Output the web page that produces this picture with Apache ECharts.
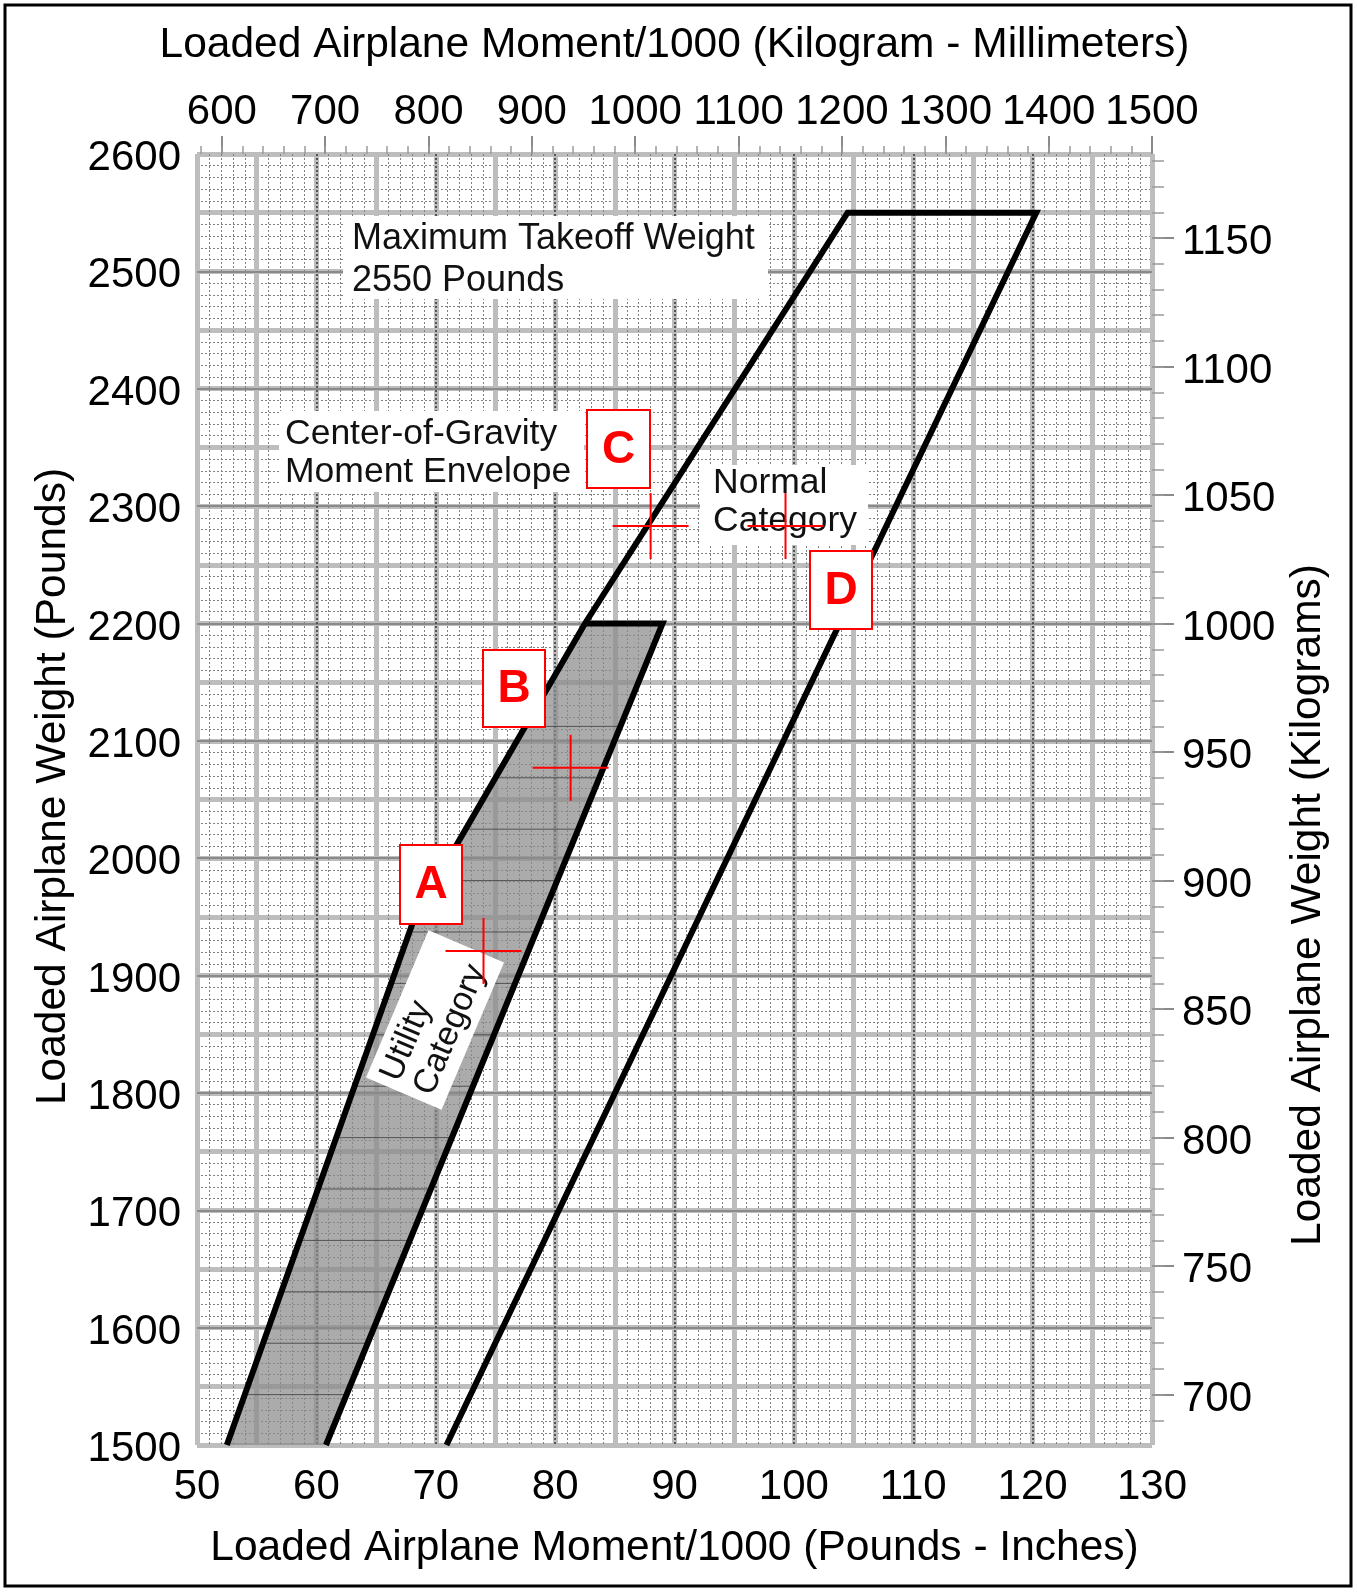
<!DOCTYPE html>
<html>
<head>
<meta charset="utf-8">
<title>Center-of-Gravity Moment Envelope</title>
<script src="https://cdn.jsdelivr.net/npm/echarts@6/dist/echarts.min.js"></script>
<style>
  html, body { margin: 0; padding: 0; background: #fff; }
  #chart { width: 1357px; height: 1592px; }
</style>
</head>
<body>
<div id="chart"></div>
<script>
// ---- Scales ---------------------------------------------------------------
const momentRange = [50, 130];          // loaded moment / 1000, lb-in
const weightRange = [1500, 2600];       // loaded weight, lb
const momentTicks = [50, 60, 70, 80, 90, 100, 110, 120, 130];
const weightTicks = [1500, 1600, 1700, 1800, 1900, 2000, 2100, 2200, 2300, 2400, 2500, 2600];
const metricMomentTicks = [600, 700, 800, 900, 1000, 1100, 1200, 1300, 1400, 1500]; // kg-mm / 1000
const metricWeightTicks = [700, 750, 800, 850, 900, 950, 1000, 1050, 1100, 1150];   // kg
const metricMomentRange = [576, 1500];  // kg-mm scale printed along the top
const kgRange = [680.4, 1182.7];        // kilogram scale printed along the right edge

// ---- Envelopes (moment/1000 lb-in, weight lb) ------------------------------
const normalEnvelope = [[52.5, 1500], [68.25, 1950], [82.5, 2200], [104.5, 2550], [120.3, 2550], [70.9, 1500]];
const utilityEdges   = [[82.5, 2200], [89.0, 2200], [60.8, 1500]];
const utilityArea    = [[52.5, 1500], [68.25, 1950], [82.5, 2200], [89.0, 2200], [60.8, 1500]];

// ---- Loading points marked with crosshairs --------------------------------
const checkPoints = [[74.0, 1921], [81.3, 2077], [88.0, 2283], [99.3, 2283]];

// ---- helpers --------------------------------------------------------------
const FONT = '"Liberation Sans", Arial, Helvetica, sans-serif';
function steps(from, to, step) { const out = []; for (let v = from; v <= to + 1e-9; v += step) out.push(v); return out; }
const metricMomentMinor = steps(580, 1480, 20);
const metricWeightMinor = steps(690, 1180, 10);
const kgPaperLines = steps(700, 960, 20);

const plain = v => String(v);
const labelStyle = { color: '#000', fontSize: 42, fontFamily: FONT, formatter: plain };
// side labels sit a few pixels below their rule
const sideLabelStyle = Object.assign({ verticalAlign: 'top', lineHeight: 9 }, labelStyle);
const nameStyle = { color: '#000', fontSize: 42.5, fontFamily: FONT };
const noLine = { show: false, onZero: false };
const heavyRule = { color: '#bdbdbd', width: 5 };
const fineRule = { color: '#808080', width: 1, type: [2, 2] };

const chart = echarts.init(document.getElementById('chart'), null, { renderer: 'canvas' });

function note(lines, x, y, lineGap, size) {
  return lines.map((t, i) => ({
    type: 'text', x: x, y: y + i * lineGap, z: 51,
    style: { text: t, font: size + 'px ' + FONT, fill: '#111', align: 'left', verticalAlign: 'middle' }
  }));
}
function whiteBox(x, y, w, h) {
  return { type: 'rect', z: 50, shape: { x: x, y: y, width: w, height: h }, style: { fill: '#fff' } };
}
function tag(letter, x, y, w, h) {
  return [
    { type: 'rect', z: 60, shape: { x: x, y: y, width: w, height: h }, style: { fill: '#fff', stroke: '#ff0000', lineWidth: 2 } },
    { type: 'text', z: 61, x: x + w / 2, y: y + h / 2 + 1,
      style: { text: letter, font: 'bold 46px ' + FONT, fill: '#ff0000', align: 'center', verticalAlign: 'middle' } }
  ];
}

const graphics = [].concat(
  [{ type: 'rect', z: 40, shape: { x: 5, y: 5, width: 1346, height: 1581 }, style: { fill: 'none', stroke: '#000', lineWidth: 3 } }],
  [whiteBox(343, 216, 425, 83)], note(['Maximum Takeoff Weight', '2550 Pounds'], 352, 239, 42, 36),
  [whiteBox(279, 411, 305, 81)], note(['Center-of-Gravity', 'Moment Envelope'], 285, 434, 38, 35.5),
  [whiteBox(700, 465, 168, 80)], note(['Normal', 'Category'], 713, 483, 38, 35.5),
  [{
    type: 'group', x: 435, y: 1020, rotation: 67 * Math.PI / 180,
    children: [
      { type: 'rect', z: 50, shape: { x: -80, y: -41, width: 160, height: 82 }, style: { fill: '#fff' } },
      { type: 'text', z: 51, x: -72, y: -18, style: { text: 'Utility', font: '34px ' + FONT, fill: '#111', align: 'left', verticalAlign: 'middle' } },
      { type: 'text', z: 51, x: -72, y: 18, style: { text: 'Category', font: '34px ' + FONT, fill: '#111', align: 'left', verticalAlign: 'middle' } }
    ]
  }],
  tag('A', 400, 845, 62, 79),
  tag('B', 483, 650, 62, 77),
  tag('C', 587, 410, 63, 78),
  tag('D', 810, 551, 62, 78)
);

const option = {
  animation: false,
  backgroundColor: '#fff',
  grid: { left: 197, top: 154, width: 955, height: 1291, containLabel: false },
  xAxis: [
    { // labelled lb-in scale, darker rule every 10
      type: 'value', position: 'bottom', min: momentRange[0], max: momentRange[1], interval: 10, z: 2,
      axisLine: noLine, axisTick: { show: false },
      axisLabel: Object.assign({ margin: 21, customValues: momentTicks }, labelStyle),
      splitLine: { show: true, showMinLine: false, showMaxLine: false, lineStyle: { color: '#555', width: 2, type: [2, 2] } },
      name: 'Loaded Airplane Moment/1000 (Pounds - Inches)', nameLocation: 'middle', nameGap: 82, nameTextStyle: nameStyle
    },
    { // graph paper: heavy every 5, fine every 1
      type: 'value', position: 'bottom', min: momentRange[0], max: momentRange[1], interval: 5, z: 0,
      axisLine: noLine, axisTick: { show: false }, axisLabel: { show: false },
      splitLine: { show: true, lineStyle: heavyRule },
      minorTick: { show: false, splitNumber: 5 },
      minorSplitLine: { show: true, lineStyle: fineRule }
    },
    { // kg-mm scale along the top
      type: 'value', position: 'top', min: metricMomentRange[0], max: metricMomentRange[1], z: 2,
      axisLine: noLine,
      axisTick: { show: true, customValues: metricMomentTicks, length: 18, lineStyle: { color: '#8a8a8a', width: 2 } },
      axisLabel: Object.assign({ margin: 21, customValues: metricMomentTicks }, labelStyle),
      splitLine: { show: false },
      name: 'Loaded Airplane Moment/1000 (Kilogram - Millimeters)', nameLocation: 'middle', nameGap: 87, nameTextStyle: nameStyle
    },
    {
      type: 'value', position: 'top', min: metricMomentRange[0], max: metricMomentRange[1], z: 2,
      axisLine: noLine, axisLabel: { show: false }, splitLine: { show: false },
      axisTick: { show: true, customValues: metricMomentMinor, length: 8, lineStyle: { color: '#9a9a9a', width: 1.5 } }
    }
  ],
  yAxis: [
    { // labelled pound scale, ruled line every 100
      type: 'value', position: 'left', min: weightRange[0], max: weightRange[1], interval: 100, z: 2,
      axisLine: noLine, axisTick: { show: false },
      axisLabel: Object.assign({ margin: 16, customValues: weightTicks }, sideLabelStyle),
      splitLine: { show: true, showMinLine: false, showMaxLine: false, lineStyle: { color: '#8a8a8a', width: 2 } },
      name: 'Loaded Airplane Weight (Pounds)', nameLocation: 'middle', nameGap: 122, nameRotate: 90,
      nameTextStyle: Object.assign({ padding: [0, 0, 0, 26] }, nameStyle)
    },
    { // graph paper: heavy every 50, fine every 10
      type: 'value', position: 'left', min: weightRange[0], max: weightRange[1], interval: 50, z: 0,
      axisLine: noLine, axisTick: { show: false }, axisLabel: { show: false },
      splitLine: { show: true, lineStyle: heavyRule },
      minorTick: { show: false, splitNumber: 5 },
      minorSplitLine: { show: true, lineStyle: fineRule }
    },
    { // kilogram scale on the right
      type: 'value', position: 'right', min: kgRange[0], max: kgRange[1], z: 2,
      axisLine: noLine, splitLine: { show: false },
      axisTick: { show: true, customValues: metricWeightTicks, length: 22, lineStyle: { color: '#8a8a8a', width: 2 } },
      axisLabel: Object.assign({ margin: 30, customValues: metricWeightTicks }, sideLabelStyle),
      name: 'Loaded Airplane Weight (Kilograms)', nameLocation: 'middle', nameGap: 118, nameRotate: 90,
      nameTextStyle: Object.assign({ padding: [0, 211, 0, 0] }, nameStyle)
    },
    {
      type: 'value', position: 'right', min: kgRange[0], max: kgRange[1], z: 2,
      axisLine: noLine, axisLabel: { show: false }, splitLine: { show: false },
      axisTick: { show: true, customValues: metricWeightMinor, length: 12, lineStyle: { color: '#9a9a9a', width: 1.5 } }
    }
  ],
  series: [
    { // shaded utility category area, with the kilogram paper rules that show through it
      type: 'custom', name: 'Utility Category', xAxisIndex: 0, yAxisIndex: 0, z: 5, silent: true,
      data: [0],
      renderItem: function (params, api) {
        const pts = utilityArea.map(p => api.coord(p));
        const yTop = api.coord([momentRange[0], weightRange[1]])[1];
        const yBot = api.coord([momentRange[0], weightRange[0]])[1];
        const children = [{ type: 'polygon', shape: { points: pts }, style: { fill: '#8a8a8a', opacity: 0.72 } }];
        kgPaperLines.forEach(kg => {
          const py = yBot - (kg - kgRange[0]) / (kgRange[1] - kgRange[0]) * (yBot - yTop);
          const xs = [];
          for (let i = 0; i < pts.length; i++) {
            const a = pts[i], b = pts[(i + 1) % pts.length];
            if (a[1] !== b[1] && (py - a[1]) * (py - b[1]) <= 0) xs.push(a[0] + (py - a[1]) / (b[1] - a[1]) * (b[0] - a[0]));
          }
          if (xs.length >= 2) {
            children.push({ type: 'line', shape: { x1: Math.min(...xs), y1: py, x2: Math.max(...xs), y2: py },
              style: { stroke: '#3c3c3c', lineWidth: 1, opacity: 0.8 } });
          }
        });
        return { type: 'group', children: children };
      }
    },
    {
      type: 'line', name: 'Normal Category', xAxisIndex: 0, yAxisIndex: 0, z: 6, data: normalEnvelope,
      symbol: 'none', lineStyle: { color: '#000', width: 6, join: 'miter' }, silent: true
    },
    {
      type: 'line', name: 'Utility Limits', xAxisIndex: 0, yAxisIndex: 0, z: 6, data: utilityEdges,
      symbol: 'none', lineStyle: { color: '#000', width: 6, join: 'miter' }, silent: true
    },
    {
      type: 'custom', name: 'Loading Points', xAxisIndex: 0, yAxisIndex: 0, z: 100, data: checkPoints,
      renderItem: function (params, api) {
        const c = api.coord([api.value(0), api.value(1)]);
        const s = { stroke: '#ff0000', lineWidth: 2 };
        return { type: 'group', children: [
          { type: 'line', shape: { x1: c[0] - 38, y1: c[1], x2: c[0] + 38, y2: c[1] }, style: s },
          { type: 'line', shape: { x1: c[0], y1: c[1] - 33, x2: c[0], y2: c[1] + 33 }, style: s }
        ] };
      }
    }
  ],
  graphic: { elements: graphics }
};

chart.setOption(option);
</script>
</body>
</html>
